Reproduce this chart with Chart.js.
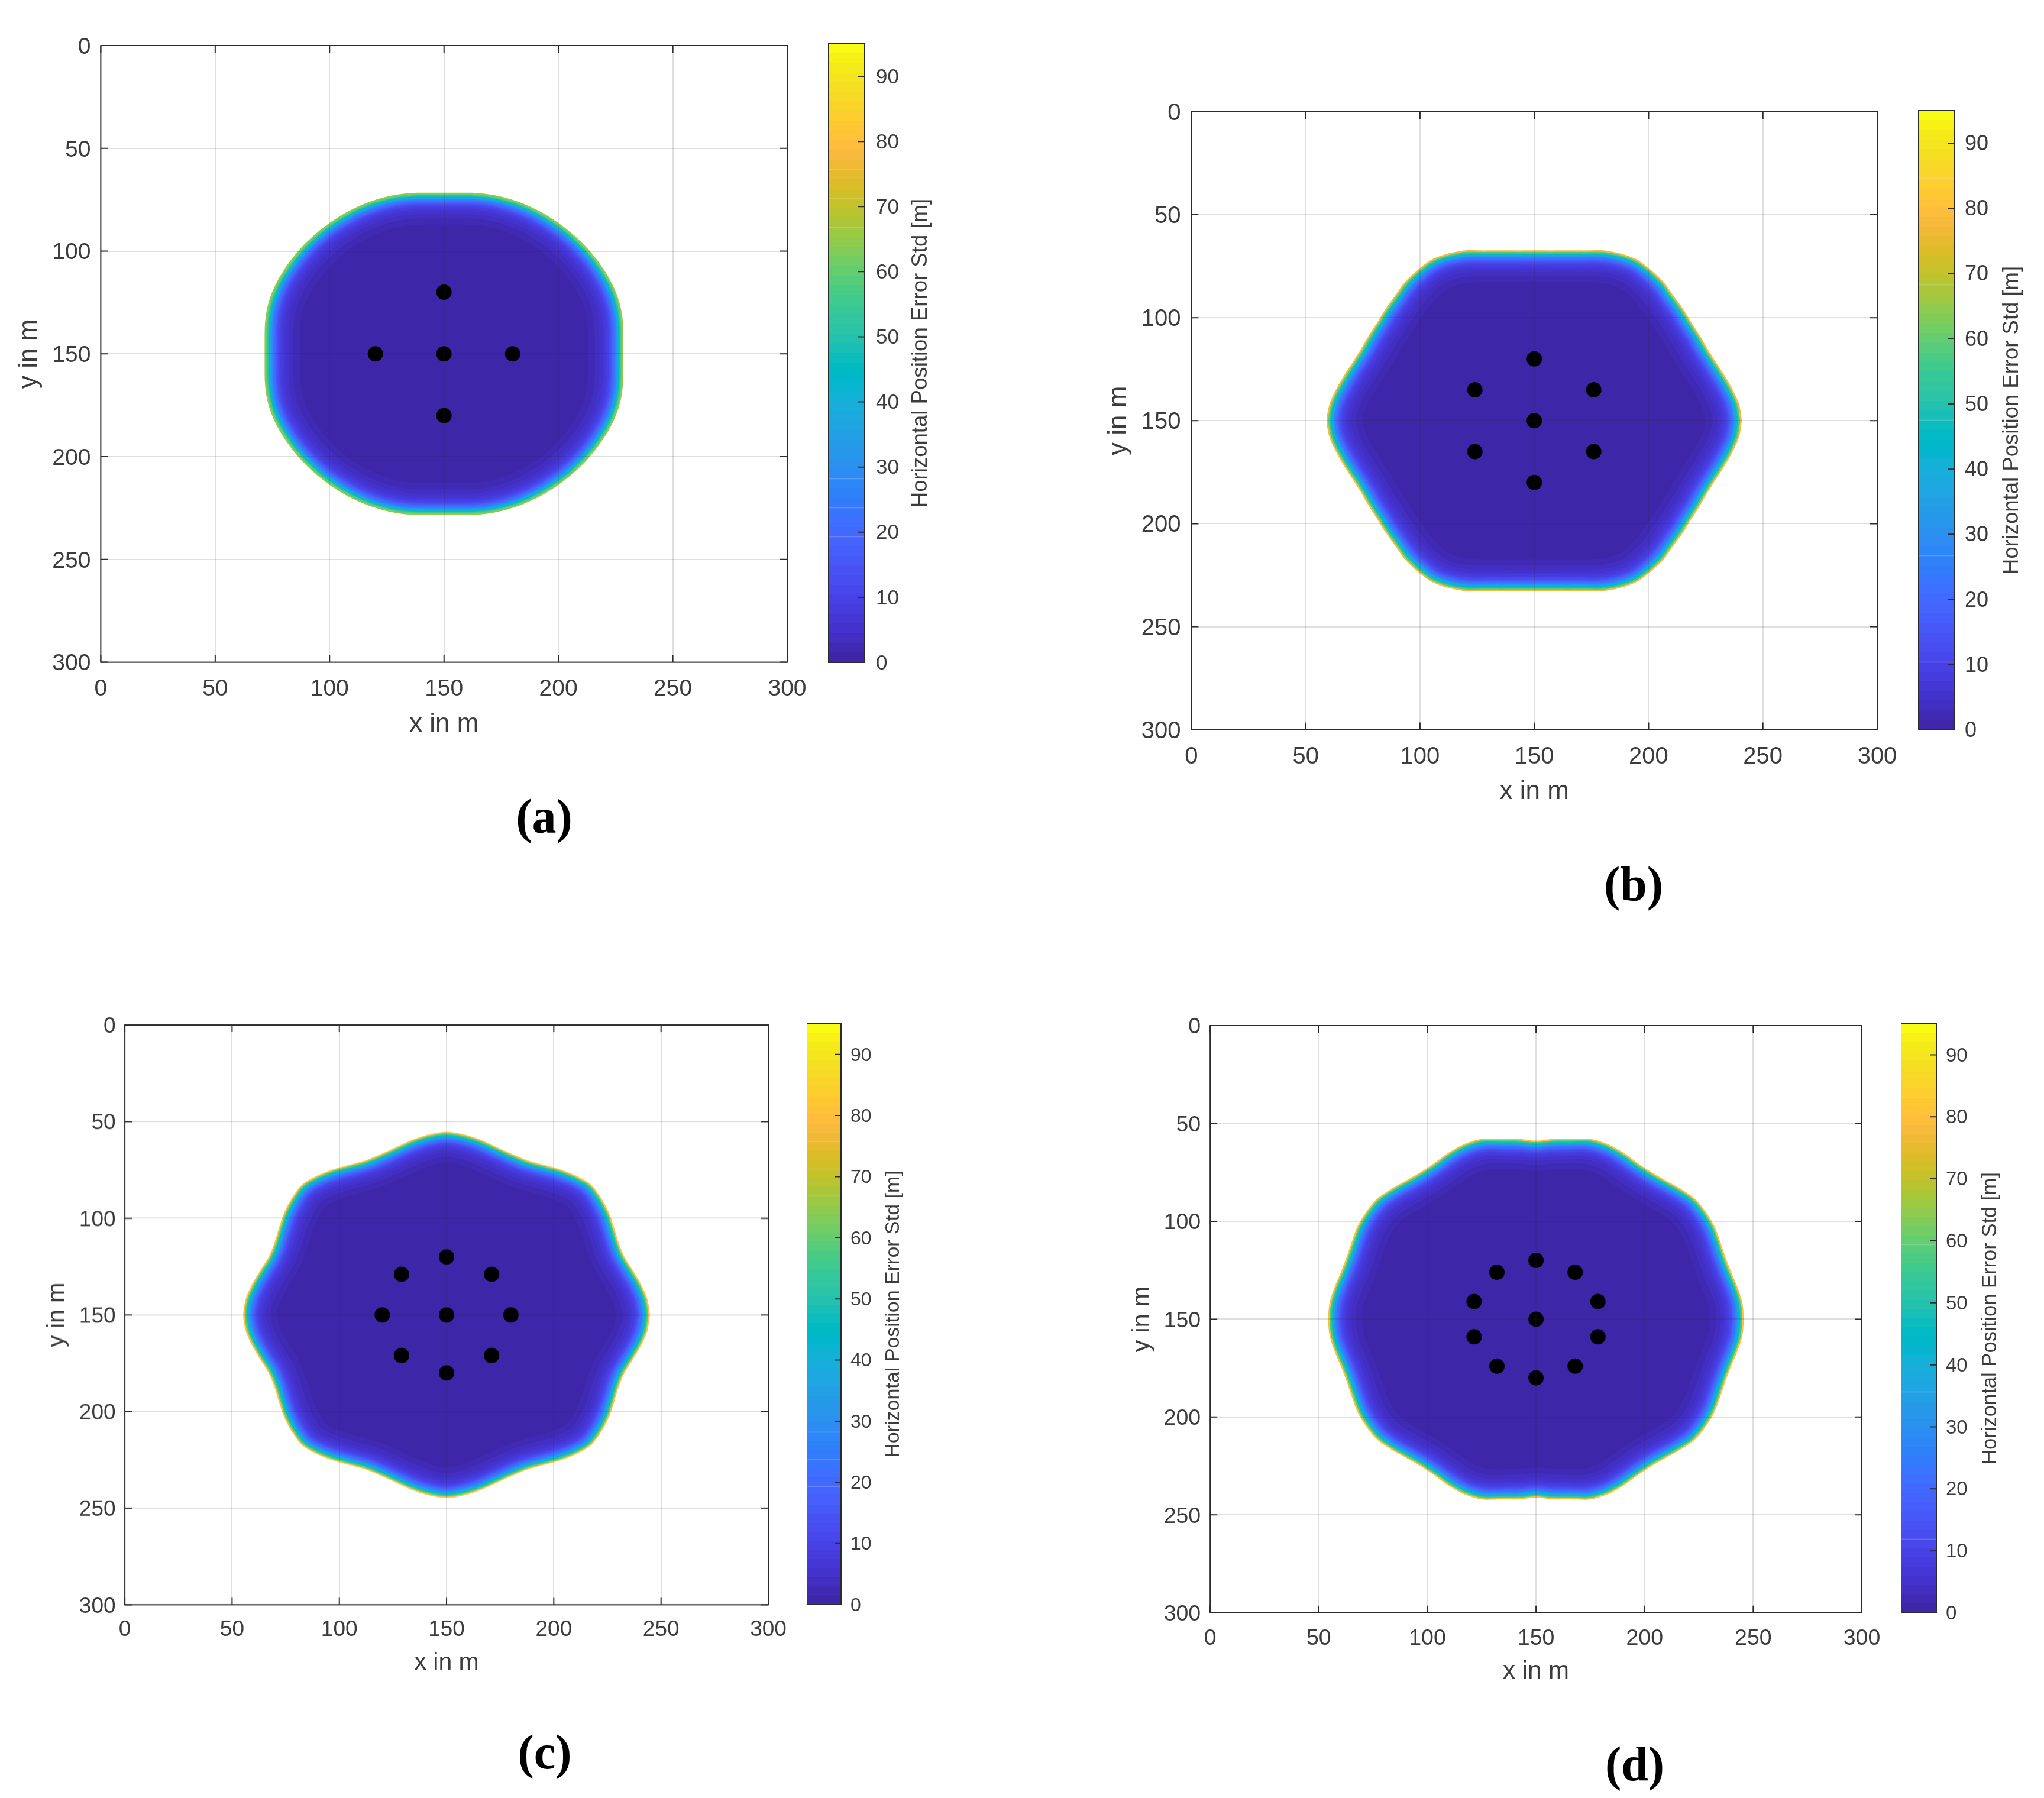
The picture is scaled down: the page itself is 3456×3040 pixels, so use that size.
<!DOCTYPE html>
<html>
<head>
<meta charset="utf-8">
<style>
html,body{margin:0;padding:0;background:#fff;width:3456px;height:3040px;overflow:hidden}
canvas{position:absolute;display:block}
.tag{position:absolute;transform:translate(-50%,-50%);font:bold 82px "Liberation Serif",serif;color:#000;white-space:nowrap}
</style>
<script src="https://cdn.jsdelivr.net/npm/chart.js@4/dist/chart.umd.js"></script>
</head>
<body>
<script>
// ---------- values ----------
const tickValues = [0, 50, 100, 150, 200, 250, 300];
const barTicks = [0, 10, 20, 30, 40, 50, 60, 70, 80, 90];
const barMax = 95;
const xTitle = 'x in m';
const yTitle = 'y in m';
const barTitle = 'Horizontal Position Error Std [m]';

// Anchor layouts (x, y in m)
const anchorsAx = [150, 120, 150, 180, 150];
const anchorsAy = [120, 150, 150, 150, 180];
const anchorsBx = [150, 124, 176, 150, 124, 176, 150];
const anchorsBy = [120, 135, 135, 150, 165, 165, 180];
const anchorsCx = [150, 129, 171, 120, 150, 180, 129, 171, 150];
const anchorsCy = [120, 129, 129, 150, 150, 150, 171, 171, 180];
const anchorsDx = [150, 132, 168, 121.5, 178.5, 150, 121.5, 178.5, 132, 168, 150];
const anchorsDy = [120, 126, 126, 141, 141, 150, 159, 159, 174, 174, 180];

// Coverage boundary: distance from (150,150) in m at each angle of one quadrant
const boundaryAngles = [0, 5, 10, 15, 20, 25, 30, 35, 40, 45, 50, 55, 60, 65, 70, 75, 80, 85, 90];
const boundaryA = [78.4, 78.7, 79.5, 80.3, 80.8, 81, 81, 81, 81, 81, 81, 81, 81, 80.9, 80.6, 80.2, 79.5, 78.7, 78.4];
const boundaryB = [90.8, 90, 88, 86, 84.3, 83.4, 83.4, 83.7, 84.8, 86, 88, 89.2, 90.2, 89.5, 88, 85.6, 84, 83, 82.7];
const boundaryC = [94.8, 94, 92, 89.8, 88.2, 88.5, 90.2, 92.4, 94.1, 95.3, 94, 92, 89.8, 88.4, 88.7, 90, 92, 93.7, 94.7];
const boundaryD = [95.7, 95.4, 94.2, 93, 92.8, 93.6, 94.9, 95.5, 95.6, 94.2, 92.7, 92, 92.6, 94.2, 95.4, 95.4, 93.5, 92.4, 91.2];

// Error level (m) reached at a given depth (m) inside the boundary
const contourDepths = [0, .7, 1.2, 1.6, 2, 2.4, 2.8, 3.2, 3.6, 4, 4.5, 5, 5.5, 6, 6.5, 7, 8, 9, 10.5, 12.5, 15.5];
const contourLevels = [0, 58, 52, 47, 42, 37, 32, 28, 24, 21, 18, 15, 13, 11, 9, 7.5, 6, 4.5, 3.5, 2.5, 1];
const rimLevelA = 64, rimLevelB = 78, rimLevelC = 80, rimLevelD = 80;

// Parula colour table of the colour bar
const parula = [
[.2422,.1504,.6603],[.2504,.165,.7076],[.2578,.1818,.7511],[.2647,.1978,.7952],[.2706,.2147,.8364],[.2751,.2342,.871],[.2783,.2559,.8991],[.2803,.2782,.9221],
[.2813,.3006,.9414],[.281,.3228,.9579],[.2795,.3447,.9717],[.276,.3667,.9829],[.2699,.3892,.9906],[.2602,.4123,.9952],[.244,.4358,.9988],[.2206,.4603,.9973],
[.1963,.4847,.9892],[.1834,.5074,.9798],[.1786,.5289,.9682],[.1764,.5499,.952],[.1687,.5703,.9359],[.154,.5902,.9218],[.146,.6091,.9079],[.138,.6276,.8973],
[.1248,.6459,.8883],[.1113,.6635,.8763],[.0952,.6798,.8598],[.0689,.6948,.8394],[.0297,.7082,.8163],[.0036,.7203,.7917],[.0067,.7312,.766],[.0433,.7411,.7394],
[.0964,.75,.712],[.1408,.7584,.6842],[.1717,.767,.6554],[.1938,.7758,.6251],[.2161,.7843,.5923],[.247,.7918,.5567],[.2906,.7973,.5188],[.3406,.8008,.4789],
[.3909,.8029,.4354],[.4456,.8024,.3909],[.5044,.7993,.348],[.5616,.7942,.3045],[.6174,.7876,.2612],[.672,.7793,.2227],[.7242,.7698,.191],[.7738,.7598,.1646],
[.8203,.7498,.1535],[.8634,.7406,.1596],[.9035,.733,.1774],[.9393,.7288,.21],[.9728,.7298,.2394],[.9956,.7434,.2371],[.997,.7659,.2199],[.9952,.7861,.199],
[.9892,.8086,.1816],[.9786,.8297,.1671],[.9676,.8515,.1517],[.961,.8732,.1344],[.9597,.8963,.1157],[.9627,.9194,.097],[.9691,.9443,.0829],[.9769,.9839,.0805]];

// ---------- layout of the four panels (pixels) ----------
const panels = [
 {tag:'(a)', tagX:920, tagY:1381, ax:anchorsAx, ay:anchorsAy, boundary:boundaryA, rim:rimLevelA,
  L:170,R:1331,T:77,B:1120, cL:1400,cR:1462,cT:74, fTick:39,fTitle:44,fBar:35,fBarT:36.6,
  yTitleX:49, yLabR:153, xTitleY:1225, xLabY:1166, barLabL:1481, barTitleX:1557},
 {tag:'(b)', tagX:2762, tagY:1495, ax:anchorsBx, ay:anchorsBy, boundary:boundaryB, rim:rimLevelB,
  L:2014,R:3174,T:189,B:1234, cL:3243,cR:3305,cT:187, fTick:40,fTitle:44,fBar:36,fBarT:36.5,
  yTitleX:1891, yLabR:1996, xTitleY:1339, xLabY:1280, barLabL:3322, barTitleX:3402},
 {tag:'(c)', tagX:921, tagY:2963, ax:anchorsCx, ay:anchorsCy, boundary:boundaryC, rim:rimLevelC,
  L:211.5,R:1299.5,T:1733,B:2713, cL:1364,cR:1422,cT:1731, fTick:37,fTitle:41,fBar:32,fBarT:34,
  yTitleX:97, yLabR:196, xTitleY:2811, xLabY:2755, barLabL:1438, barTitleX:1511},
 {tag:'(d)', tagX:2764, tagY:2983, ax:anchorsDx, ay:anchorsDy, boundary:boundaryD, rim:rimLevelD,
  L:2046,R:3148,T:1734,B:2727, cL:3214,cR:3274,cT:1731, fTick:37.5,fTitle:42,fBar:33,fBarT:34.6,
  yTitleX:1931, yLabR:2030, xTitleY:2827, xLabY:2771, barLabL:3290, barTitleX:3365},
];

const FONT = '"Liberation Sans", Arial, sans-serif';
const INK = '#3c3c3c';
const BOX = '#2b2b2b';

function colorOf(v){
  const i = Math.min(parula.length-1, Math.max(0, Math.floor(v/barMax*parula.length)));
  const c = parula[i];
  return `rgb(${Math.round(c[0]*255)},${Math.round(c[1]*255)},${Math.round(c[2]*255)})`;
}

// outer boundary polygon of a panel, unrolled over the four quadrants (angle, radius)
function rays(boundary){
  const out = [];
  const n = boundaryAngles.length;
  for (let q = 0; q < 4; q++) for (let k = 0; k < n-1; k++) {
    const idx = (q % 2 === 0) ? k : n-1-k;
    out.push({a:(q*90 + boundaryAngles[k])*Math.PI/180, r:boundary[idx]});
  }
  return out;
}
function segDist(px,py,ax,ay,bx,by){
  const dx=bx-ax, dy=by-ay;
  const t=Math.max(0,Math.min(1,((px-ax)*dx+(py-ay)*dy)/(dx*dx+dy*dy)));
  return Math.hypot(px-ax-t*dx,py-ay-t*dy);
}
// contour at a given depth inside the boundary
function contourPoints(boundary, depth){
  const R = rays(boundary);
  const poly = R.map(o=>[o.r*Math.cos(o.a), o.r*Math.sin(o.a)]);
  const clear = (x,y)=>{
    let m = Infinity;
    for (let i=0;i<poly.length;i++){ const p=poly[i],q=poly[(i+1)%poly.length]; m=Math.min(m,segDist(x,y,p[0],p[1],q[0],q[1])); }
    return m;
  };
  const pts = R.map(o=>{
    let r = o.r;
    if (depth>0){
      let lo=0, hi=o.r;
      for (let it=0;it<14;it++){ const mid=(lo+hi)/2; if (clear(mid*Math.cos(o.a),mid*Math.sin(o.a))>=depth) lo=mid; else hi=mid; }
      r = lo;
    }
    return {x:150+r*Math.cos(o.a), y:150+r*Math.sin(o.a)};
  });
  pts.push(pts[0]);
  return pts;
}

function place(cv, x, y, w, h){
  cv.width = w; cv.height = h;
  cv.style.left = x+'px'; cv.style.top = y+'px';
  cv.style.width = w+'px'; cv.style.height = h+'px';
  document.body.appendChild(cv);
}

// box and inward ticks on all four sides of the axes
const boxPlugin = {
  id:'boxTicks',
  afterDraw(chart, args, o){
    const {ctx, chartArea:a, scales:{x,y}} = chart;
    ctx.save();
    ctx.strokeStyle = BOX; ctx.lineWidth = 2;
    ctx.beginPath();
    for (const v of tickValues) {
      const px = x.getPixelForValue(v), py = y.getPixelForValue(v);
      ctx.moveTo(px, a.bottom); ctx.lineTo(px, a.bottom-12);
      ctx.moveTo(px, a.top);    ctx.lineTo(px, a.top+12);
      ctx.moveTo(a.left, py);   ctx.lineTo(a.left+12, py);
      ctx.moveTo(a.right, py);  ctx.lineTo(a.right-12, py);
    }
    ctx.stroke();
    ctx.strokeRect(a.left, a.top, a.right-a.left, a.bottom-a.top);
    ctx.restore();
  }
};

// colour bar frame, inner ticks, and its bottom-to-top title
const barPlugin = {
  id:'barFrame',
  afterDraw(chart, args, o){
    const {ctx, chartArea:a, scales:{y}} = chart;
    ctx.save();
    ctx.strokeStyle = BOX; ctx.lineWidth = 2;
    ctx.beginPath();
    for (const v of barTicks) { const py = y.getPixelForValue(v); ctx.moveTo(a.right, py); ctx.lineTo(a.right-11, py); }
    ctx.stroke();
    ctx.strokeRect(a.left, a.top, a.right-a.left, a.bottom-a.top);
    ctx.translate(o.titleX, (a.top+a.bottom)/2 + o.titleShift);
    ctx.rotate(-Math.PI/2);
    ctx.fillStyle = INK; ctx.font = `${o.titleSize}px ${FONT}`;
    ctx.textAlign = 'center'; ctx.textBaseline = 'middle';
    ctx.fillText(barTitle, 0, 0);
    ctx.restore();
  }
};

for (const p of panels) {
  // ---- main axes ----
  const padT = 70, padR = 60;
  const lh = 1.2;
  const yW = p.L - p.yTitleX + p.fTitle*lh/2;
  const xH = p.xTitleY + p.fTitle*lh/2 - p.B;
  const cv = document.createElement('canvas');
  place(cv, p.L-yW, p.T-padT, yW + (p.R-p.L) + padR, padT + (p.B-p.T) + xH);

  const contours = contourDepths.map((d, i) => ({
    type:'scatter', showLine:true, fill:'shape', tension:0.3, borderWidth:0, pointRadius:0,
    data: contourPoints(p.boundary, d),
    backgroundColor: colorOf(i === 0 ? p.rim : contourLevels[i]),
    borderColor:'transparent'
  }));
  const dots = {
    type:'scatter', data:p.ax.map((x,i)=>({x, y:p.ay[i]})),
    pointRadius:13, pointBackgroundColor:'#000', pointBorderWidth:0, showLine:false
  };
  const axis = (title, fit, pad, nudge) => ({
    type:'linear', min:0, max:300,
    afterBuildTicks(s){ s.ticks = tickValues.map(value=>({value})); },
    ticks:{color:INK, font:{family:FONT,size:p.fTick}, padding:pad, labelOffset:nudge, maxRotation:0, minRotation:0, autoSkip:false},
    grid:{color:'rgba(38,38,38,0.15)', lineWidth:2, z:1, drawTicks:false},
    border:{display:false},
    title:{display:true, text:title, color:INK, font:{family:FONT,size:p.fTitle,lineHeight:lh}, padding:0},
    afterFit: fit
  });
  new Chart(cv, {
    type:'scatter',
    data:{datasets:[dots, ...contours.reverse()]},
    plugins:[boxPlugin],
    options:{
      responsive:false, animation:false, devicePixelRatio:1,
      layout:{padding:{top:padT,right:padR,left:0,bottom:0}},
      plugins:{legend:{display:false},tooltip:{enabled:false}},
      scales:{
        x:Object.assign(axis(xTitle, s=>{s.height=xH;}, p.xLabY-p.B-p.fTick*0.6, 0), {position:'bottom'}),
        y:Object.assign(axis(yTitle, s=>{s.width=yW;}, p.L-p.yLabR, 3), {position:'left', reverse:true})
      }
    }
  });

  // ---- colour bar ----
  const cvB = document.createElement('canvas');
  const cW = p.cR-p.cL, axW = p.barTitleX - p.cR + 40, bPad = 70;
  place(cvB, p.cL, p.cT-bPad, cW+axW, bPad + (p.B-p.cT) + bPad);
  const bandValue = barMax/parula.length;
  new Chart(cvB, {
    type:'bar',
    data:{labels:[''], datasets:parula.map((c,i)=>({
      data:[bandValue], backgroundColor:colorOf((i+.5)*bandValue),
      borderColor:colorOf((i+.5)*bandValue), borderWidth:1, borderSkipped:false,
      barPercentage:1, categoryPercentage:1, stack:'bar'
    }))},
    plugins:[barPlugin],
    options:{
      responsive:false, animation:false, devicePixelRatio:1,
      layout:{padding:{top:bPad,bottom:bPad,left:0,right:0}},
      plugins:{legend:{display:false},tooltip:{enabled:false},
        barFrame:{titleX:p.barTitleX-p.cL, titleSize:p.fBarT, titleShift:0}},
      scales:{
        x:{display:false, stacked:true, grid:{display:false}},
        y:{type:'linear', position:'right', stacked:true, min:0, max:barMax,
           afterBuildTicks(s){ s.ticks = barTicks.map(value=>({value})); },
           ticks:{color:INK, font:{family:FONT,size:p.fBar}, padding:p.barLabL-p.cR, labelOffset:2},
           grid:{display:false, drawTicks:false}, border:{display:false},
           afterFit(s){ s.width = axW; }}
      }
    }
  });

  // ---- sub-figure label ----
  const t = document.createElement('div');
  t.className = 'tag'; t.textContent = p.tag;
  t.style.left = p.tagX+'px'; t.style.top = p.tagY+'px';
  document.body.appendChild(t);
}
</script>
</body>
</html>
